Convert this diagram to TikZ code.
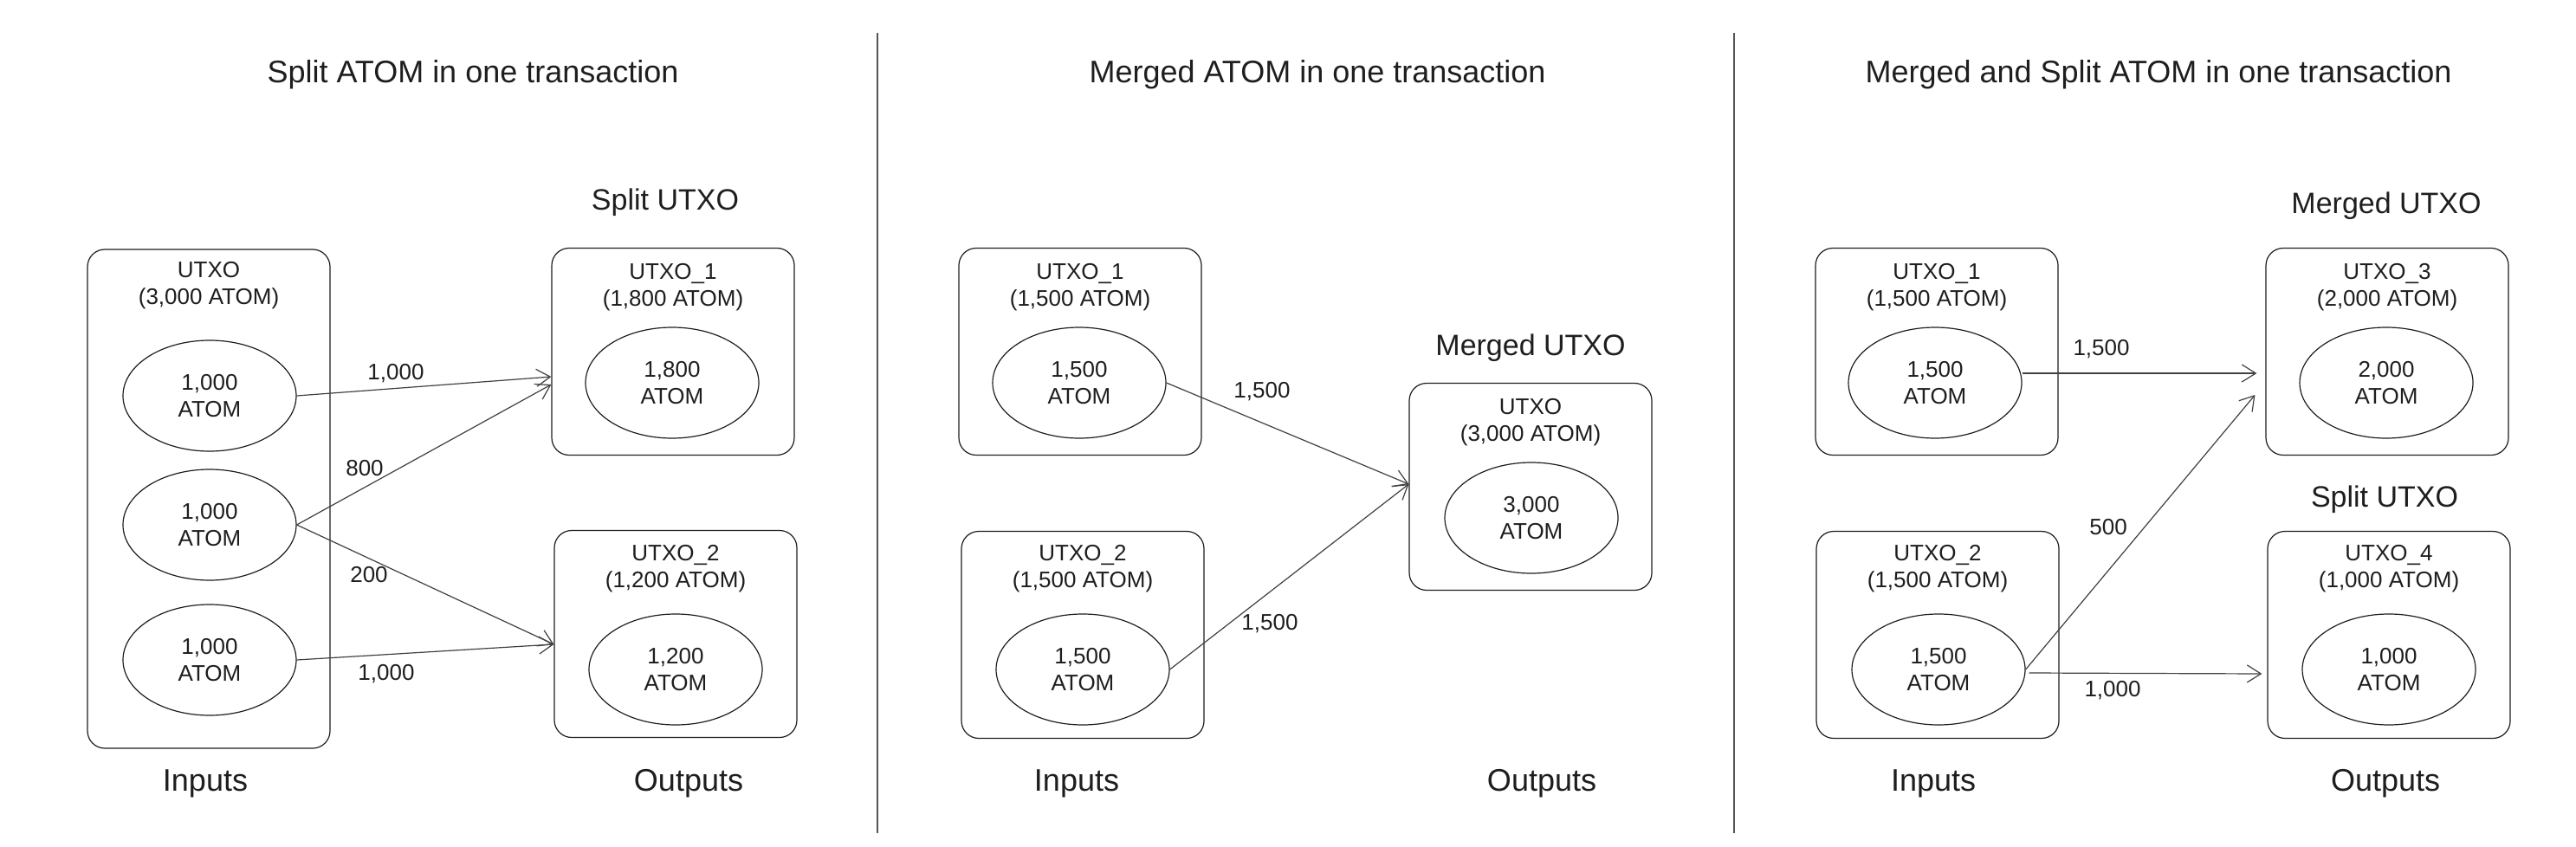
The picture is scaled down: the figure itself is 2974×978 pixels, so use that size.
\documentclass[tikz,border=0pt]{standalone}
\usepackage{fontspec}
\setmainfont{Liberation Sans}
\definecolor{inkblack}{RGB}{30,30,30}
\definecolor{inkgray}{RGB}{85,85,85}
\usetikzlibrary{shapes,arrows.meta,calc}

\begin{document}
\begin{tikzpicture}[x=0.5pt, y=-0.5pt, every node/.style={font=\fontsize{13}{15.5}\selectfont, text=inkblack},
    utxobox/.style={draw=inkblack, line width=0.6pt, rounded corners=10pt, minimum width=140pt, minimum height=119.5pt, inner sep=0pt},
    coin/.style={draw=inkblack, line width=0.6pt, ellipse, minimum width=100pt, minimum height=64pt, inner sep=0pt, align=center},
    boxlabel/.style={font=\fontsize{13}{15.5}\selectfont, align=center},
    flow/.style={-{Straight Barb[length=8pt,width=10pt]}, draw=inkblack!85, line width=0.6pt},
    heading/.style={font=\fontsize{18}{22}\selectfont},
    side/.style={font=\fontsize{17}{20}\selectfont}]
    \fill[white] (0,0) rectangle (2974,978);
    \useasboundingbox (0,0) rectangle (2974,978);

    % Separators
    \draw[inkgray, line width=1pt] (1013,38) -- (1013,962);
    \draw[inkgray, line width=1pt] (2002,38) -- (2002,962);

    % ---------- Split ----------
    \node[heading] (splittitle) at (546,86) {Split ATOM in one transaction};
    \node[utxobox, minimum height=288pt] (sin) at (241,576) {};
    \node[boxlabel] at (241,330) {UTXO\\(3,000 ATOM)};
    \node[coin] (sa) at (242,457) {1,000\\ATOM};
    \node[coin] (sb) at (242,606) {1,000\\ATOM};
    \node[coin] (sc) at (242,762) {1,000\\ATOM};

    \node[side] (splitout) at (768,234) {Split UTXO};
    \node[utxobox] (sout1) at (777,406) {};
    \node[boxlabel] at (777,332) {UTXO\_1\\(1,800 ATOM)};
    \node[coin] (so1) at (776,442) {1,800\\ATOM};
    \node[utxobox] (sout2) at (780,732) {};
    \node[boxlabel] at (780,657) {UTXO\_2\\(1,200 ATOM)};
    \node[coin] (so2) at (780,773) {1,200\\ATOM};

    \draw[flow] (sa.east) -- ($(sout1.west)+(0,29)$);
    \draw[flow] (sb.east) -- ($(sout1.west)+(0,38)$);
    \draw[flow] (sb.east) -- ($(sout2.west)+(0,12)$);
    \draw[flow] (sc.east) -- ($(sout2.west)+(0,12)$);
    \node at (457,431) {1,000};
    \node at (421,541) {800};
    \node at (426,664) {200};
    \node at (446,778) {1,000};

    \node[heading] at (237,905) {Inputs};
    \node[heading] at (795,905) {Outputs};

    % ---------- Merged ----------
    \node[heading] (mergetitle) at (1521,86) {Merged ATOM in one transaction};
    \node[utxobox] (min1) at (1247,406) {};
    \node[boxlabel] at (1247,332) {UTXO\_1\\(1,500 ATOM)};
    \node[coin] (ma) at (1246,442) {1,500\\ATOM};
    \node[utxobox] (min2) at (1250,733) {};
    \node[boxlabel] at (1250,657) {UTXO\_2\\(1,500 ATOM)};
    \node[coin] (mb) at (1250,773) {1,500\\ATOM};

    \node[side] (mergeout) at (1767,402) {Merged UTXO};
    \node[utxobox] (mout) at (1767,562) {};
    \node[boxlabel] at (1767,488) {UTXO\\(3,000 ATOM)};
    \node[coin] (mo) at (1768,598) {3,000\\ATOM};

    \draw[flow] (ma.east) -- ($(mout.west)+(0,-3)$);
    \draw[flow] (mb.east) -- ($(mout.west)+(0,-3)$);
    \node at (1457,452) {1,500};
    \node at (1466,720) {1,500};

    \node[heading] at (1243,905) {Inputs};
    \node[heading] at (1780,905) {Outputs};

    % ---------- Merged and split ----------
    \node[heading] (bothtitle) at (2492,86) {Merged and Split ATOM in one transaction};
    \node[utxobox] (bin1) at (2236,406) {};
    \node[boxlabel] at (2236,332) {UTXO\_1\\(1,500 ATOM)};
    \node[coin] (ba) at (2234,442) {1,500\\ATOM};
    \node[utxobox] (bin2) at (2237,733) {};
    \node[boxlabel] at (2237,657) {UTXO\_2\\(1,500 ATOM)};
    \node[coin] (bb) at (2238,773) {1,500\\ATOM};

    \node[side] (bothmerged) at (2755,238) {Merged UTXO};
    \node[utxobox] (bout3) at (2756,406) {};
    \node[boxlabel] at (2756,332) {UTXO\_3\\(2,000 ATOM)};
    \node[coin] (bo3) at (2755,442) {2,000\\ATOM};
    \node[side] (bothsplit) at (2753,577) {Split UTXO};
    \node[utxobox] (bout4) at (2758,733) {};
    \node[boxlabel] at (2758,657) {UTXO\_4\\(1,000 ATOM)};
    \node[coin] (bo4) at (2758,773) {1,000\\ATOM};

    \draw[flow] ($(ba.east)+(0,-11)$) -- ($(bout3.west)+(-10,25)$);
    \draw[flow] (bb.east) -- ($(bout3.west)+(-12,50)$);
    \draw[flow] ($(bb.east)+(4,4)$) -- ($(bout4.west)+(-6,45)$);
    \node at (2426,403) {1,500};
    \node at (2434,609) {500};
    \node at (2439,797) {1,000};

    \node[heading] at (2232,905) {Inputs};
    \node[heading] at (2754,905) {Outputs};
\end{tikzpicture}
\end{document}
